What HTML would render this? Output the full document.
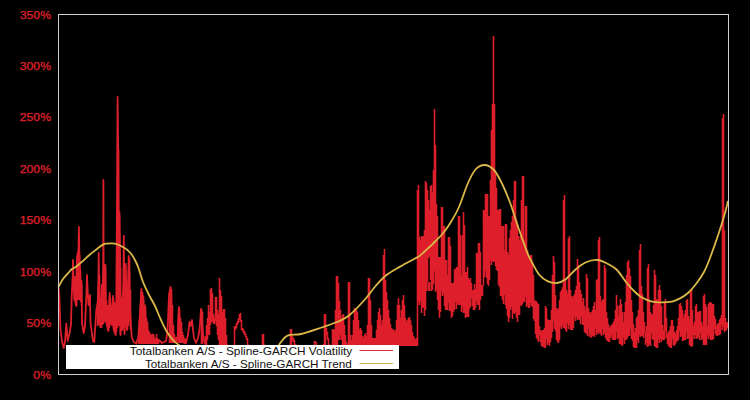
<!DOCTYPE html>
<html><head><meta charset="utf-8"><title>Spline-GARCH</title>
<style>
html,body{margin:0;padding:0;background:#000;}
body{width:750px;height:400px;position:relative;overflow:hidden;font-family:"Liberation Sans",sans-serif;}
.t{position:absolute;left:0;width:51px;text-align:right;color:#e0202c;font-size:10.8px;line-height:15px;height:15px;transform:scaleX(1.13);transform-origin:100% 50%;-webkit-text-stroke:0.25px #e0202c;}
svg{position:absolute;left:0;top:0;}
.lg{position:absolute;left:66px;top:345px;width:333px;height:24px;background:#fff;}
.lg div{position:absolute;right:47px;white-space:nowrap;color:#111;font-size:11.3px;line-height:13px;height:13px;transform-origin:100% 50%;}
</style></head><body>
<div class="t" style="top:7.5px">350%</div><div class="t" style="top:59.0px">300%</div><div class="t" style="top:110.4px">250%</div><div class="t" style="top:161.8px">200%</div><div class="t" style="top:213.2px">150%</div><div class="t" style="top:264.7px">100%</div><div class="t" style="top:316.1px">50%</div><div class="t" style="top:367.5px">0%</div>
<svg width="750" height="400" viewBox="0 0 750 400">
<path d="M75.5,277.0V303.0M76.5,268.0V306.0M77.5,257.0V300.0M78.5,255.0V300.0M79.5,255.0V300.0M80.5,270.0V302.0M81.5,280.0V306.0M97.5,303.0V326.0M98.5,290.0V324.0M99.5,275.0V326.0M100.5,305.0V328.0M101.5,300.0V328.0M102.5,290.0V325.0M103.5,285.0V324.0M104.5,280.0V322.0M105.5,268.0V321.0M106.5,300.0V322.0M107.5,305.0V326.0M108.5,305.0V331.0M109.5,296.0V328.0M110.5,298.0V324.0M111.5,305.0V325.0M112.5,303.0V325.0M113.5,298.0V328.0M114.5,302.0V330.0M115.5,305.0V335.0M116.5,300.0V332.0M117.5,200.0V328.0M118.5,150.0V326.0M119.5,215.0V326.0M120.5,268.0V334.0M121.5,298.0V330.0M122.5,295.0V330.0M123.5,285.0V328.0M124.5,285.0V332.0M125.5,266.0V326.0M126.5,280.0V328.0M127.5,295.0V330.0M128.5,270.0V326.0M129.5,258.0V322.0M130.5,290.0V330.0M138.5,337.0V344.0M139.5,320.0V344.0M140.5,305.0V344.0M141.5,291.0V344.0M142.5,292.0V344.0M143.5,296.0V344.0M144.5,304.0V344.0M145.5,306.0V344.0M146.5,318.0V344.0M147.5,322.0V344.0M148.5,330.0V344.0M149.5,332.0V344.0M150.5,334.0V344.0M151.5,335.0V344.0M152.5,335.0V344.0M153.5,334.0V344.0M154.5,338.0V344.0M155.5,338.0V344.0M156.5,334.0V344.0M157.5,338.0V344.0M158.5,340.0V344.0M169.5,300.0V343.0M170.5,289.0V343.0M171.5,289.0V343.0M172.5,305.0V343.0M173.5,325.0V343.0M174.5,334.0V343.0M175.5,337.0V343.0M176.5,337.0V343.0M178.5,318.0V343.0M179.5,309.0V343.0M180.5,318.0V343.0M181.5,322.0V343.0M182.5,332.0V343.0M183.5,335.0V343.0M184.5,338.0V343.0M185.5,339.0V343.0M201.5,309.0V344.0M202.5,312.0V344.0M205.5,336.0V345.0M206.5,325.0V345.0M207.5,318.0V340.0M208.5,305.0V335.0M209.5,312.0V335.0M210.5,289.0V325.0M211.5,288.0V322.0M212.5,293.0V322.0M213.5,314.0V324.0M214.5,318.0V324.0M215.5,297.0V322.0M216.5,297.0V326.0M217.5,310.0V335.0M218.5,314.0V340.0M219.5,278.0V345.0M220.5,290.0V345.0M221.5,296.0V345.0M222.5,312.0V345.0M223.5,309.0V345.0M224.5,309.0V345.0M225.5,318.0V345.0M226.5,335.0V345.0M227.5,344.5V347.0M228.5,346.0V347.0M229.5,346.0V347.0M230.5,346.0V347.0M231.5,346.0V347.0M232.5,346.0V347.0M233.5,346.0V347.0M234.5,326.0V346.5M235.5,326.0V330.0M236.5,323.0V328.0M237.5,321.0V325.0M238.5,318.0V323.0M239.5,314.0V320.0M240.5,313.0V322.0M241.5,320.0V330.0M242.5,328.0V331.0M243.5,329.0V333.0M244.5,331.0V335.0M245.5,333.0V337.0M246.5,336.0V340.0M247.5,338.0V345.0M248.5,344.5V347.0M249.5,346.0V347.0M250.5,346.0V347.0M251.5,346.0V347.0M252.5,346.0V347.0M253.5,346.0V347.0M254.5,346.0V347.0M255.5,346.0V347.0M256.5,346.0V347.0M257.5,346.0V347.0M258.5,346.0V347.0M259.5,346.0V347.0M260.5,346.0V347.0M261.5,346.0V347.0M262.5,334.0V346.5M263.5,334.0V345.0M264.5,344.5V347.0M265.5,346.0V347.0M266.5,346.0V347.0M267.5,346.0V347.0M268.5,346.0V347.0M269.5,346.0V347.0M270.5,346.0V347.0M271.5,346.0V347.0M272.5,346.0V347.0M273.5,346.0V347.0M274.5,346.0V347.0M275.5,346.0V347.0M276.5,346.0V347.0M277.5,346.0V347.0M278.5,346.0V347.0M279.5,346.0V347.0M280.5,346.0V347.0M281.5,346.0V347.0M282.5,346.0V347.0M283.5,346.0V347.0M284.5,346.0V347.0M285.5,346.0V347.0M286.5,346.0V347.0M287.5,346.0V347.0M288.5,346.0V347.0M289.5,346.0V347.0M290.5,329.0V346.5M291.5,329.0V345.0M292.5,336.0V340.0M293.5,338.0V342.0M294.5,340.0V345.0M295.5,344.0V346.0M296.5,346.0V347.0M297.5,346.0V347.0M298.5,346.0V347.0M299.5,346.0V347.0M300.5,346.0V347.0M301.5,346.0V347.0M302.5,346.0V347.0M303.5,346.0V347.0M304.5,346.0V347.0M305.5,346.0V347.0M306.5,346.0V347.0M307.5,346.0V347.0M308.5,346.0V347.0M309.5,346.0V347.0M310.5,346.0V347.0M311.5,346.0V347.0M312.5,346.0V347.0M313.5,346.0V347.0M314.5,341.0V346.5M315.5,341.0V343.0M316.5,342.5V347.0M317.5,346.0V347.0M318.5,346.0V347.0M319.5,346.0V347.0M320.5,346.0V347.0M321.5,346.0V347.0M322.5,346.0V347.0M323.5,344.0V346.0M324.5,314.0V345.0M325.5,314.0V345.0M326.5,328.0V335.0M327.5,332.0V340.0M328.5,338.0V345.0M329.5,344.5V347.0M330.5,346.0V347.0M331.5,346.0V347.0M332.5,329.0V346.5M333.5,329.0V345.0M334.5,330.0V345.0M335.5,310.0V345.0M336.5,276.0V345.0M337.5,276.0V345.0M338.5,283.0V340.0M339.5,301.0V340.0M340.5,310.0V335.0M341.5,318.0V340.0M342.5,315.0V345.0M343.5,314.0V345.0M344.5,325.0V345.0M345.5,335.0V345.0M346.5,342.0V345.0M347.5,344.5V347.0M348.5,282.0V345.0M349.5,282.0V345.0M350.5,335.0V345.0M351.5,340.0V345.0M352.5,335.0V345.0M353.5,320.0V345.0M354.5,308.0V345.0M355.5,308.0V346.0M356.5,310.0V346.0M357.5,312.0V346.0M358.5,320.0V346.0M359.5,330.0V346.0M360.5,328.0V346.0M361.5,330.0V346.0M362.5,336.0V346.0M363.5,338.0V346.0M364.5,335.0V346.0M365.5,333.0V346.0M366.5,336.0V346.0M367.5,325.0V346.0M368.5,278.0V346.0M369.5,278.0V346.0M370.5,300.0V346.0M371.5,325.0V346.0M372.5,338.0V346.0M373.5,338.0V346.0M374.5,338.0V346.0M375.5,338.0V346.0M376.5,330.0V346.0M377.5,320.0V346.0M378.5,312.0V346.0M379.5,308.0V346.0M380.5,315.0V346.0M381.5,325.0V346.0M382.5,320.0V346.0M383.5,255.0V346.0M384.5,249.0V346.0M385.5,280.0V346.0M386.5,292.0V346.0M387.5,300.0V346.0M388.5,310.0V346.0M389.5,318.0V346.0M390.5,324.0V346.0M391.5,328.0V346.0M392.5,330.0V346.0M393.5,329.0V346.0M394.5,332.0V346.0M395.5,330.0V346.0M396.5,320.0V346.0M397.5,305.0V346.0M398.5,298.0V346.0M399.5,305.0V346.0M400.5,318.0V346.0M401.5,310.0V346.0M402.5,300.0V346.0M403.5,295.0V346.0M404.5,305.0V346.0M405.5,318.0V346.0M406.5,322.0V346.0M407.5,320.0V346.0M408.5,318.0V346.0M409.5,317.0V346.0M410.5,320.0V346.0M411.5,325.0V346.0M412.5,332.0V346.0M413.5,336.0V346.0M414.5,338.0V346.0M415.5,340.0V346.0M416.5,338.0V346.0M417.5,190.0V346.0M418.5,185.0V302.0M419.5,237.0V305.0M420.5,240.0V301.0M421.5,236.0V313.0M422.5,236.0V307.0M423.5,236.0V308.0M424.5,230.0V316.0M425.5,181.0V310.0M426.5,183.0V291.0M427.5,190.0V282.0M428.5,200.0V258.0M429.5,210.0V256.0M430.5,186.0V280.0M431.5,185.0V291.0M432.5,192.0V290.0M433.5,170.0V284.0M434.5,109.0V271.0M435.5,145.0V292.0M436.5,204.0V290.0M437.5,216.0V300.0M438.5,257.0V310.0M439.5,257.0V318.0M440.5,257.0V312.0M441.5,207.0V291.0M442.5,207.0V296.0M443.5,226.0V294.0M444.5,226.0V306.0M445.5,260.0V310.0M446.5,260.0V310.0M447.5,275.0V310.0M448.5,237.0V303.0M449.5,237.0V311.0M450.5,246.0V311.0M451.5,283.0V318.0M452.5,283.0V316.0M453.5,283.0V312.0M454.5,269.0V310.0M455.5,269.0V302.0M456.5,267.0V309.0M457.5,267.0V303.0M458.5,216.0V305.0M459.5,216.0V305.0M460.5,235.0V305.0M461.5,275.0V312.0M462.5,235.0V307.0M463.5,212.0V313.0M464.5,225.0V313.0M465.5,272.0V318.0M466.5,272.0V317.0M467.5,267.0V317.0M468.5,278.0V317.0M469.5,280.0V309.0M470.5,278.0V307.0M471.5,283.0V298.0M472.5,290.0V306.0M473.5,290.0V310.0M474.5,284.0V310.0M475.5,289.0V308.0M476.5,253.0V301.0M477.5,253.0V305.0M478.5,243.0V305.0M479.5,243.0V310.0M480.5,252.0V300.0M481.5,285.0V296.0M482.5,285.0V296.0M483.5,210.0V285.5M484.5,210.0V277.0M485.5,194.0V271.0M486.5,194.0V278.0M487.5,194.0V284.0M488.5,216.0V286.0M489.5,216.0V280.0M490.5,180.0V261.0M491.5,130.0V265.0M492.5,104.0V261.0M493.5,36.0V262.0M494.5,104.0V262.0M495.5,174.0V266.0M496.5,188.0V270.0M497.5,210.0V271.0M498.5,210.0V285.0M499.5,209.0V287.0M500.5,209.0V296.0M501.5,226.0V296.0M502.5,226.0V300.0M503.5,226.0V304.0M504.5,250.0V295.0M505.5,224.0V305.0M506.5,224.0V309.0M507.5,252.0V316.0M508.5,255.0V322.0M509.5,238.0V318.0M510.5,230.0V310.0M511.5,222.0V307.0M512.5,216.0V319.0M513.5,200.0V313.0M514.5,181.0V314.0M515.5,181.0V312.0M516.5,220.0V318.0M517.5,224.0V322.0M518.5,236.0V315.0M519.5,240.0V315.0M520.5,236.0V305.0M521.5,200.0V306.0M522.5,176.0V304.0M523.5,176.0V302.0M524.5,240.0V302.0M525.5,206.0V297.0M526.5,206.0V307.0M527.5,250.0V305.0M528.5,256.0V308.0M529.5,256.0V308.0M530.5,255.0V303.0M531.5,255.0V306.0M532.5,262.0V307.0M533.5,275.0V319.0M534.5,300.0V321.0M535.5,301.0V334.0M536.5,301.0V338.0M537.5,303.0V340.0M538.5,304.0V342.0M539.5,326.0V335.0M540.5,330.0V342.0M541.5,332.0V346.0M542.5,330.0V347.0M543.5,330.0V347.0M544.5,328.0V348.0M545.5,306.0V348.0M546.5,308.0V339.0M547.5,319.0V345.0M548.5,320.0V343.0M549.5,320.0V346.0M550.5,320.0V342.0M551.5,310.0V338.0M552.5,275.0V332.0M553.5,256.0V321.0M554.5,262.0V329.0M555.5,295.0V331.0M556.5,308.0V340.0M557.5,310.0V342.0M558.5,308.0V343.0M559.5,300.0V340.0M560.5,292.0V327.0M561.5,290.0V329.0M562.5,287.0V325.0M563.5,200.0V328.0M564.5,195.0V328.0M565.5,280.0V330.0M566.5,290.0V332.0M567.5,294.0V323.0M568.5,238.0V329.0M569.5,236.0V325.0M570.5,290.0V330.0M571.5,296.0V330.0M572.5,298.0V330.0M573.5,296.0V328.0M574.5,294.0V317.0M575.5,290.0V321.0M576.5,286.0V317.0M577.5,259.0V320.0M578.5,265.0V319.0M579.5,282.0V320.0M580.5,290.0V324.0M581.5,294.0V317.0M582.5,302.0V325.0M583.5,298.0V325.0M584.5,306.0V332.0M585.5,310.0V333.0M586.5,274.0V334.0M587.5,278.0V336.0M588.5,308.0V329.0M589.5,312.0V337.0M590.5,314.0V335.0M591.5,312.0V338.0M592.5,310.0V336.0M593.5,306.0V336.0M594.5,302.0V337.0M595.5,310.0V329.0M596.5,280.0V335.0M597.5,279.0V332.0M598.5,240.0V334.0M599.5,237.0V332.0M600.5,296.0V334.0M601.5,302.0V336.0M602.5,300.0V329.0M603.5,299.0V335.0M604.5,265.0V333.0M605.5,268.0V338.0M606.5,312.0V340.0M607.5,318.0V341.0M608.5,324.0V342.0M609.5,328.0V342.0M610.5,326.0V338.0M611.5,325.0V335.0M612.5,324.0V340.0M613.5,322.0V340.0M614.5,319.0V340.0M615.5,310.0V340.0M616.5,295.0V332.0M617.5,306.0V339.0M618.5,315.0V338.0M619.5,305.0V344.0M620.5,299.0V344.0M621.5,304.0V345.0M622.5,312.0V346.0M623.5,322.0V338.0M624.5,312.0V344.0M625.5,302.0V340.0M626.5,275.0V340.0M627.5,262.0V338.0M628.5,260.0V336.0M629.5,268.0V336.0M630.5,276.0V329.0M631.5,300.0V339.0M632.5,312.0V341.0M633.5,324.0V347.0M634.5,332.0V348.0M635.5,328.0V348.0M636.5,318.0V348.0M637.5,316.0V340.0M638.5,310.0V343.0M639.5,250.0V335.0M640.5,244.0V337.0M641.5,286.0V336.0M642.5,294.0V336.0M643.5,312.0V338.0M644.5,322.0V333.0M645.5,332.0V345.0M646.5,326.0V343.0M647.5,268.0V347.0M648.5,264.0V346.0M649.5,300.0V344.0M650.5,312.0V346.0M651.5,315.0V333.0M652.5,314.0V339.0M653.5,305.0V340.0M654.5,270.0V346.0M655.5,275.0V347.0M656.5,299.0V348.0M657.5,300.0V348.0M658.5,290.0V339.0M659.5,285.0V343.0M660.5,290.0V339.0M661.5,306.0V342.0M662.5,325.0V340.0M663.5,330.0V340.0M664.5,302.0V340.0M665.5,299.0V331.0M666.5,318.0V338.0M667.5,334.0V344.0M668.5,332.0V346.0M669.5,330.0V347.0M670.5,326.0V348.0M671.5,320.0V348.0M672.5,320.0V339.0M673.5,326.0V345.0M674.5,332.0V346.0M675.5,334.0V344.0M676.5,330.0V342.0M677.5,326.0V341.0M678.5,318.0V340.0M679.5,304.0V331.0M680.5,303.0V337.0M681.5,306.0V336.0M682.5,310.0V341.0M683.5,318.0V341.0M684.5,314.0V340.0M685.5,310.0V340.0M686.5,300.0V332.0M687.5,299.0V339.0M688.5,316.0V338.0M689.5,319.0V345.0M690.5,292.0V346.0M691.5,290.0V347.0M692.5,310.0V346.0M693.5,326.0V335.0M694.5,322.0V339.0M695.5,306.0V335.0M696.5,304.0V339.0M697.5,312.0V338.0M698.5,312.0V338.0M699.5,311.0V340.0M700.5,311.0V333.0M701.5,322.0V340.0M702.5,326.0V339.0M703.5,296.0V345.0M704.5,294.0V345.0M705.5,304.0V345.0M706.5,307.0V345.0M707.5,326.0V335.0M708.5,304.0V339.0M709.5,302.0V336.0M710.5,302.0V340.0M711.5,303.0V340.0M712.5,304.0V340.0M713.5,304.0V339.0M714.5,316.0V329.0M715.5,319.0V334.0M716.5,326.0V336.0M717.5,324.0V336.0M718.5,323.0V335.0M719.5,320.0V335.0M720.5,318.0V334.0M721.5,315.0V325.0M722.5,118.0V330.0M723.5,114.0V327.0M724.5,230.0V332.0M725.5,318.0V331.0M726.5,323.0V330.0M727.5,322.0V328.0M428.5,282.0V291.0M429.5,282.0V291.0" fill="none" stroke="#de1f2b" stroke-width="1.6"/>
<path d="M58.7,288.0L59.5,300.0L60.5,330.0L62.0,341.0L63.7,348.0L65.0,342.0L66.3,323.5L67.7,341.0L68.5,337.0L69.7,333.0L71.0,324.0L71.7,297.0L72.7,275.0L73.0,260.0L73.3,275.0L74.3,300.0L75.0,277.0L75.4,303.0L76.3,306.0L77.0,257.0L78.5,250.0L78.9,227.0L79.3,250.0L80.3,276.0L80.8,300.0L81.7,284.0L82.0,323.0L83.7,333.0L85.0,326.0L86.3,297.0L87.0,275.0L87.6,290.0L88.5,305.0L90.0,295.0L90.5,323.0L93.0,341.0L94.3,342.0L95.0,330.0L96.3,310.0L97.7,303.0L98.5,275.0L98.7,253.0L98.9,275.0L99.8,320.0L101.0,310.0L101.7,285.0L102.5,320.0L103.2,260.0L103.4,180.0L103.6,260.0L104.5,300.0L105.4,265.0L106.0,321.0L108.3,331.0L109.7,293.0L110.5,322.0L112.0,325.0L113.0,296.0L113.7,330.0L115.7,335.0L116.3,300.0L117.0,200.0L117.6,97.0L118.2,150.0L118.8,250.0L119.4,212.0L120.3,268.0L120.5,335.0L121.5,300.0L122.0,330.0L123.3,285.0L123.8,236.0L124.2,285.0L124.5,334.0L125.7,264.0L126.4,300.0L127.0,330.0L128.0,290.0L128.7,256.0L129.5,275.0L130.0,310.0L131.7,337.0L133.7,342.0L136.3,343.5L138.3,337.0L139.7,317.0L141.4,289.0L142.2,300.0L143.0,296.0L144.0,310.0L145.0,306.0L146.0,326.0L147.0,322.0L148.0,336.0L149.5,338.0L151.0,336.0L153.0,334.5L154.5,342.0L156.0,340.0L157.5,343.0L159.0,340.0L162.0,343.0L166.0,341.0L167.0,335.0L168.0,320.0L169.0,295.0L170.6,287.0L171.4,300.0L172.0,320.0L173.0,333.0L175.0,341.0L176.5,338.0L177.5,340.0L178.4,315.0L179.0,307.0L179.8,320.0L181.0,325.0L182.0,338.0L184.0,343.0L186.0,343.0L188.0,335.0L189.5,322.0L190.5,326.0L192.0,320.0L193.0,330.0L194.0,338.0L196.0,343.0L198.0,338.0L199.5,330.0L200.3,320.0L201.0,309.0L201.8,312.0L202.6,330.0L203.2,336.0L204.8,343.0L205.5,340.0" fill="none" stroke="#de1f2b" stroke-width="1.8" stroke-linejoin="round"/>
<path d="M58.5,287.0C58.6,286.8 58.2,287.3 59.0,286.0C59.8,284.7 61.2,281.5 63.0,279.0C64.8,276.5 68.5,272.7 70.0,271.0C71.5,269.3 70.8,269.8 72.0,269.0C73.2,268.2 74.8,267.7 77.0,266.0C79.2,264.3 82.7,261.1 85.0,259.0C87.3,256.9 89.0,255.3 91.0,253.6C93.0,251.9 95.0,250.5 97.0,249.0C99.0,247.5 101.3,245.5 103.0,244.6C104.7,243.7 105.7,243.8 107.0,243.6C108.3,243.4 109.7,243.3 111.0,243.3C112.3,243.3 113.3,243.2 115.0,243.6C116.7,244.0 119.0,245.0 121.0,246.0C123.0,247.0 125.2,248.1 127.0,249.6C128.8,251.1 130.5,252.9 132.0,255.0C133.5,257.1 134.8,259.6 136.0,262.0C137.2,264.4 137.8,266.2 139.0,269.5C140.2,272.8 141.3,277.8 143.0,282.0C144.7,286.2 147.0,291.0 149.0,295.0C151.0,299.0 153.0,301.8 155.0,306.0C157.0,310.2 159.0,315.7 161.0,320.0C163.0,324.3 165.0,328.7 167.0,332.0C169.0,335.3 171.2,337.9 173.0,340.0C174.8,342.1 176.5,343.2 178.0,344.4C179.5,345.6 181.3,346.6 182.0,347.0M279.0,345.5C279.2,345.1 278.6,345.0 280.0,343.4C281.4,341.8 284.0,337.2 287.5,335.6C291.0,334.0 295.8,335.2 301.0,334.0C306.2,332.8 313.0,330.4 319.0,328.4C325.0,326.4 332.0,324.1 337.0,322.0C342.0,319.9 344.5,319.1 349.0,315.5C353.5,311.9 359.5,305.5 364.0,300.5C368.5,295.5 372.2,289.8 376.0,285.5C379.8,281.2 382.5,278.1 386.5,275.0C390.5,271.9 395.2,269.4 400.0,266.6C404.8,263.9 411.7,260.3 415.0,258.5C418.3,256.7 417.5,257.6 420.0,255.6C422.5,253.6 427.5,248.8 430.0,246.5C432.5,244.2 433.0,243.5 435.0,241.5C437.0,239.5 439.5,237.5 442.0,234.5C444.5,231.5 447.2,228.1 450.0,223.5C452.8,218.9 456.0,213.8 459.0,207.0C462.0,200.2 465.2,189.2 468.0,183.0C470.8,176.8 472.8,172.5 475.5,169.5C478.2,166.5 481.5,165.0 484.5,165.0C487.5,165.0 490.8,166.8 493.5,169.5C496.2,172.2 498.2,176.0 501.0,181.5C503.8,187.0 507.0,194.5 510.0,202.5C513.0,210.5 516.2,221.5 519.0,229.5C521.8,237.5 524.7,245.7 526.5,250.5C528.3,255.3 527.9,254.6 530.0,258.6C532.1,262.6 536.0,270.7 539.0,274.5C542.0,278.3 545.0,280.0 548.0,281.4C551.0,282.8 554.0,283.4 557.0,283.0C560.0,282.6 563.0,281.2 566.0,279.0C569.0,276.8 571.8,272.8 575.0,270.0C578.2,267.2 581.8,264.2 585.5,262.5C589.2,260.8 593.8,259.8 597.5,260.0C601.2,260.2 604.8,262.3 608.0,264.0C611.2,265.7 614.0,267.0 617.0,270.0C620.0,273.0 623.2,278.5 626.0,282.0C628.8,285.5 631.3,288.4 634.0,291.0C636.7,293.6 639.0,295.8 642.0,297.6C645.0,299.4 648.7,300.8 652.0,301.6C655.3,302.4 658.7,302.4 662.0,302.4C665.3,302.4 669.0,302.3 672.0,301.6C675.0,300.9 677.3,299.8 680.0,298.4C682.7,297.0 685.3,295.4 688.0,293.0C690.7,290.6 693.3,287.5 696.0,284.0C698.7,280.5 701.7,276.3 704.0,272.0C706.3,267.7 707.5,264.6 710.0,258.0C712.5,251.4 716.5,240.0 719.0,232.5C721.5,225.0 723.5,218.2 725.0,213.0C726.5,207.8 727.5,203.0 728.0,201.0" fill="none" stroke="#dcb848" stroke-width="1.8" stroke-linejoin="round"/>
<rect x="58.5" y="14.5" width="670" height="360" fill="none" stroke="#cecece" stroke-width="1"/>
</svg>
<div class="lg"><div style="top:0px;transform:scaleX(1.048)">Totalbanken A/S - Spline-GARCH Volatility</div><div style="top:12.5px;transform:scaleX(1.035)">Totalbanken A/S - Spline-GARCH Trend</div>
<svg width="333" height="24" style="left:0;top:0"><path d="M293.5,5.5H327" stroke="#d8303c" stroke-width="1" fill="none"/><path d="M293.5,18.5H327" stroke="#d2b250" stroke-width="1" fill="none"/></svg></div>
</body></html>
